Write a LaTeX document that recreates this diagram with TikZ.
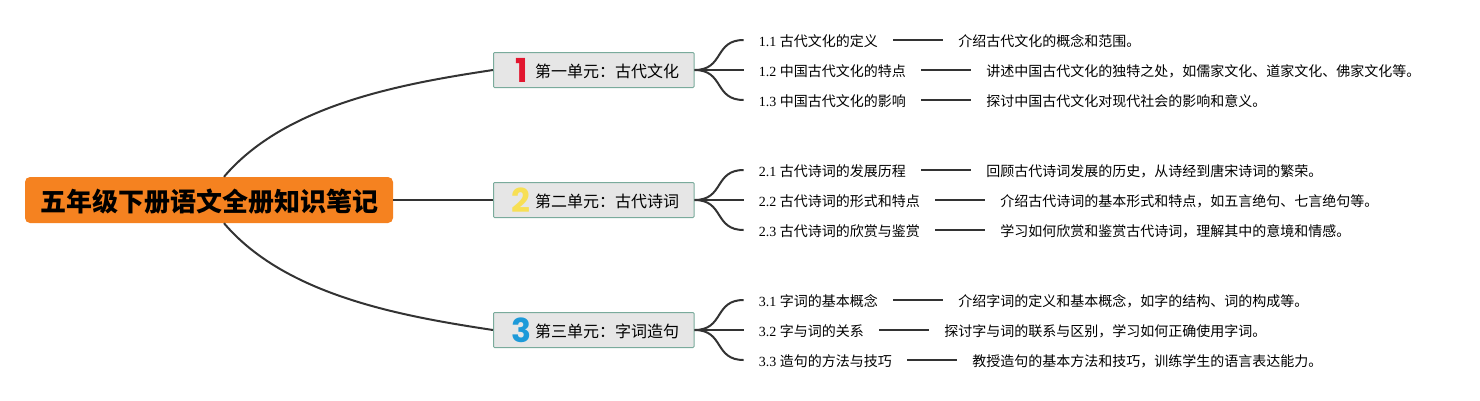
\documentclass[tikz,border=0pt]{standalone}
\usepackage{fontspec}
\setmainfont{Noto Sans CJK SC}
\newfontfamily\latinfont{Liberation Serif}
\newfontfamily\iconfont{Poppins}[BoldFont=* Bold]
\usetikzlibrary{positioning}

\definecolor{rootfill}{HTML}{F58220}
\definecolor{topicfill}{HTML}{E6E6E6}
\definecolor{topicline}{HTML}{7AAB9C}
\definecolor{linkcol}{HTML}{333333}
\definecolor{iconred}{HTML}{E2162F}
\definecolor{iconyellow}{HTML}{F7DF55}
\definecolor{iconblue}{HTML}{1E9AD9}

\tikzset{
    rootnode/.style={draw=none, fill=rootfill, rounded corners=5pt, inner xsep=15pt,
        inner ysep=0pt, minimum height=46pt, text height=24pt, text depth=1pt,
        font=\fontsize{26}{26}\selectfont\bfseries},
    topicnode/.style={draw=topicline, line width=1pt, fill=topicfill, inner xsep=15pt,
        inner ysep=0pt, minimum height=35pt, rounded corners=1pt, anchor=west,
        text height=15pt, text depth=1pt, font=\fontsize{16}{16}\selectfont},
    leafnode/.style={inner xsep=15pt, inner ysep=2pt, anchor=west,
        text height=13pt, text depth=1pt, font=\fontsize{14}{14}\selectfont},
    link/.style={draw=linkcol, line width=2pt}
}

\begin{document}
\begin{tikzpicture}[x=1pt, y=-1pt]
    \useasboundingbox (0,0) rectangle (1480,400);

    % draw nodes
    \node [rootnode] (root) at (209,200) {五年级下册语文全册知识笔记};

    \foreach \i/\y/\c/\t in {1/70/iconred/第一单元：古代文化, 2/200/iconyellow/第二单元：古代诗词, 3/330/iconblue/第三单元：字词造句}
        \node [topicnode] (t\i) at (493,\y)
            {\makebox[25.5pt][c]{\smash{\raisebox{-5pt}{\fontsize{33}{33}\iconfont\bfseries\color{\c}\i}}}\hspace{1pt}\t};

    \foreach \i/\j/\y/\l/\d in {
        1/1/40/古代文化的定义/介绍古代文化的概念和范围。,
        1/2/70/中国古代文化的特点/讲述中国古代文化的独特之处，如儒家文化、道家文化、佛家文化等。,
        1/3/100/中国古代文化的影响/探讨中国古代文化对现代社会的影响和意义。,
        2/1/170/古代诗词的发展历程/回顾古代诗词发展的历史，从诗经到唐宋诗词的繁荣。,
        2/2/200/古代诗词的形式和特点/介绍古代诗词的基本形式和特点，如五言绝句、七言绝句等。,
        2/3/230/古代诗词的欣赏与鉴赏/学习如何欣赏和鉴赏古代诗词，理解其中的意境和情感。,
        3/1/300/字词的基本概念/介绍字词的定义和基本概念，如字的结构、词的构成等。,
        3/2/330/字与词的关系/探讨字与词的联系与区别，学习如何正确使用字词。,
        3/3/360/造句的方法与技巧/教授造句的基本方法和技巧，训练学生的语言表达能力。}
    {
        \node [leafnode] (l\i\j) at (743.7,\y) {{\latinfont\i.\j\ }\l};
        \node [leafnode, right=50pt of l\i\j] (d\i\j) {\d};
    }

    % draw edges
    \draw [link] ([xshift=15pt]root.north) .. controls (285,105) and (400,84) .. (t1.west);
    \draw [link] (root.east) -- (t2.west);
    \draw [link] ([xshift=15pt]root.south) .. controls (285,295) and (400,316) .. (t3.west);

    \foreach \i in {1,2,3}
        \foreach \j in {1,2,3} {
            \draw [link] (t\i.east) .. controls +(30,0) and +(-30,0) .. (l\i\j.west);
            \draw [link] (l\i\j) -- (d\i\j);
        }
\end{tikzpicture}
\end{document}
